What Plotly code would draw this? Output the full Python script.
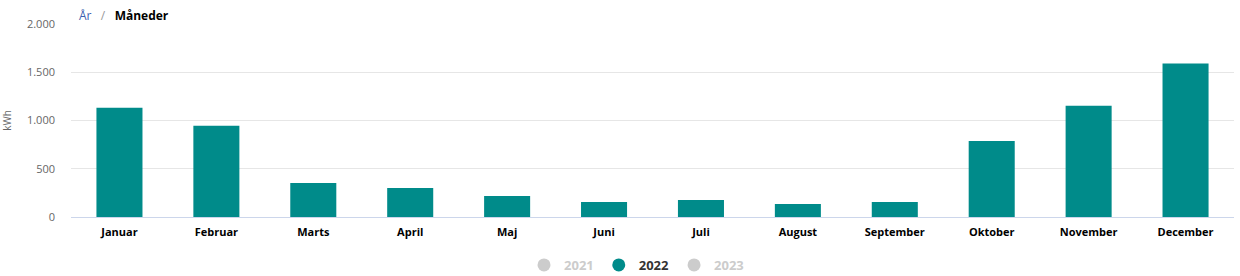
import plotly.graph_objects as go

months = ["Januar", "Februar", "Marts", "April", "Maj", "Juni", "Juli",
          "August", "September", "Oktober", "November", "December"]
kwh_2022 = [1133, 946, 352, 300, 218, 155, 176, 135, 155, 788, 1154, 1590]
years = ["2021", "2022", "2023"]
y_ticks = [0, 500, 1000, 1500, 2000]

TEAL = "#008b8a"
FONT = "Open Sans"

fig = go.Figure()
fig.add_trace(go.Bar(x=months, y=kwh_2022, name="2022", marker_color=TEAL,
                     marker_line_width=0, showlegend=False, legendgroup="2022"))

# legend entries (circle symbols)
for yr in years:
    active = yr == "2022"
    col = TEAL if active else "#cccccc"
    label = f"<b>{yr}</b>" if active else f"<b><span style='color:#cccccc'>{yr}</span></b>"
    fig.add_trace(go.Scatter(x=[None], y=[None], mode="markers", name=label,
                             legendgroup=yr,
                             marker=dict(symbol="circle", size=13, color=col),
                             hoverinfo="skip"))

fig.update_layout(
    width=1240, height=276,
    margin=dict(l=71, r=6, t=24, b=59, autoexpand=False),
    paper_bgcolor="white", plot_bgcolor="white",
    separators=",.",
    font=dict(family=FONT, size=11, color="#666666"),
    bargap=0.525,
    showlegend=True,
    legend=dict(orientation="h", x=0.5 - 16 / 1164, xanchor="center",
                yref="container", y=11 / 276, yanchor="middle",
                xref="paper",
                font=dict(family=FONT, size=13, color="#333333"),
                itemwidth=30, tracegroupgap=0),
    xaxis=dict(showgrid=False, showline=True, linecolor="#ccd6eb", linewidth=1,
               ticks="", ticklabelstandoff=5,
               tickfont=dict(family=FONT, size=11, color="#000000", weight="bold"),
               fixedrange=True),
    yaxis=dict(range=[0, 2000], tickvals=y_ticks, tickformat=",d",
               showgrid=True, gridcolor="#e6e6e6", gridwidth=1, zeroline=False,
               showline=False, ticks="", ticklabelstandoff=15,
               tickfont=dict(family=FONT, size=11, color="#666666"),
               title=dict(text="kWh", font=dict(family=FONT, size=10, color="#666666"), standoff=14)),
)

fig.add_annotation(
    xref="paper", yref="paper", x=0, y=1, xshift=6, yshift=9,
    xanchor="left", yanchor="middle", showarrow=False,
    text="<span style='color:#3e5fb0'>År</span>   <span style='color:#999999'>/</span>   <b><span style='color:#000000'>Måneder</span></b>",
    font=dict(family=FONT, size=12),
)

fig.write_html("out.html")
